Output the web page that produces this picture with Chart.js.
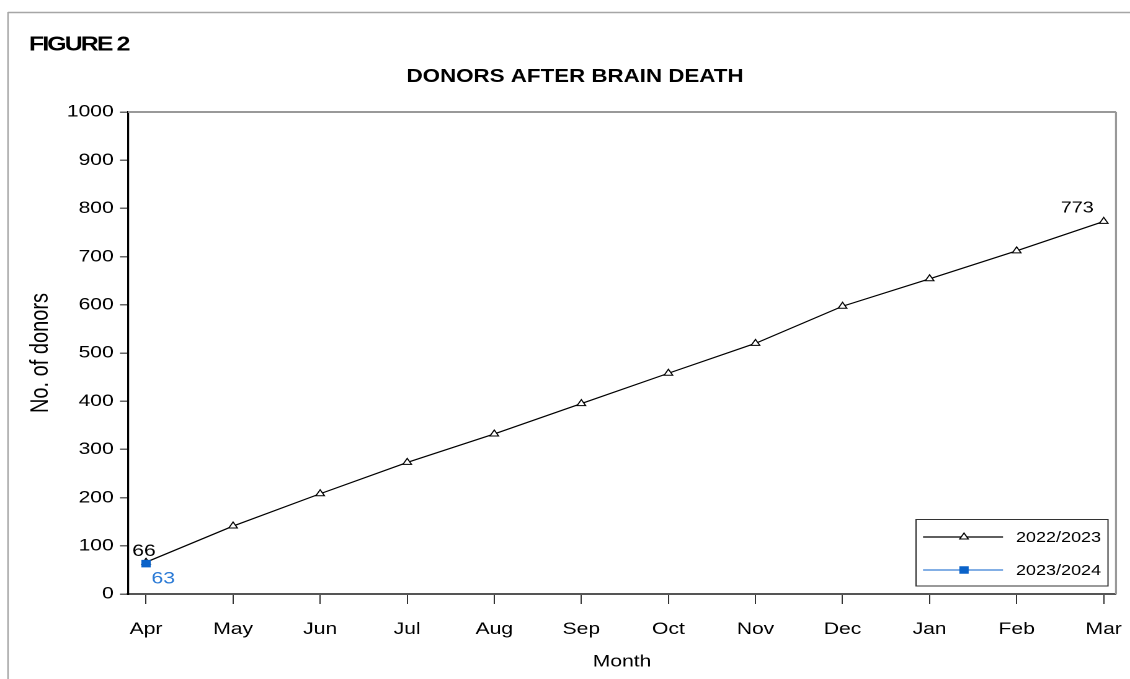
<!DOCTYPE html>
<html lang="en">
<head>
  <meta charset="UTF-8" />
  <title>Donors after brain death</title>
  <script src="https://cdn.jsdelivr.net/npm/chart.js"></script>
  <style>
    html, body { margin: 0; padding: 0; background: #fff; overflow: hidden; }
    /* the original figure is stretched sideways, so draw narrower and widen it */
    #wrap { width: 911px; height: 679px; transform: scaleX(1.2404); transform-origin: 0 0; }
  </style>
</head>
<body>
  <div id="wrap"><canvas id="donorChart"></canvas></div>

  <script>
    // data
    const months = ["Apr", "May", "Jun", "Jul", "Aug", "Sep", "Oct", "Nov", "Dec", "Jan", "Feb", "Mar"];
    const yTicks = [0, 100, 200, 300, 400, 500, 600, 700, 800, 900, 1000];
    const seriesNames = ["2022/2023", "2023/2024"];
    const donors2223 = [66, 141, 208, 273, 332, 395, 458, 520, 597, 654, 712, 773];
    const donors2324 = [63];

    const SX = 1130 / 911;
    const FONT = "'Liberation Sans', Arial, sans-serif";
    Chart.defaults.font.family = FONT;
    Chart.defaults.color = "#000";

    function toPoints(arr) {
      return arr.map((v, i) => ({ x: i, y: v }));
    }

    // small marker drawer for the legend
    function marker(ctx, ds, x, y) {
      ctx.save();
      ctx.fillStyle = ds.pointBackgroundColor;
      ctx.strokeStyle = ds.pointBorderColor;
      ctx.lineWidth = ds.pointBorderWidth;
      ctx.beginPath();
      const r = ds.pointRadius;
      if (ds.pointStyle === "triangle") {
        ctx.moveTo(x - r * 0.866, y + r * 0.5);
        ctx.lineTo(x, y - r);
        ctx.lineTo(x + r * 0.866, y + r * 0.5);
        ctx.closePath();
      } else {
        const s = r * Math.SQRT1_2;
        ctx.rect(x - s, y - s, 2 * s, 2 * s);
      }
      ctx.fill();
      ctx.stroke();
      ctx.restore();
    }

    const decor = {
      id: "decor",
      beforeDraw(chart) {
        const ctx = chart.ctx;
        ctx.save();
        ctx.fillStyle = "#fff";
        ctx.fillRect(0, 0, chart.width, chart.height);
        // outer frame
        ctx.strokeStyle = "#a6a6a6";
        ctx.lineWidth = 1.5;
        ctx.beginPath();
        ctx.moveTo(8 / SX, 12.5);
        ctx.lineTo(chart.width, 12.5);
        ctx.stroke();
        ctx.lineWidth = 1.5 / SX;
        ctx.beginPath();
        ctx.moveTo(8 / SX, 12);
        ctx.lineTo(8 / SX, chart.height);
        ctx.stroke();
        ctx.restore();
      },
      beforeDatasetsDraw(chart) {
        const ctx = chart.ctx;
        const a = chart.chartArea;
        ctx.save();
        ctx.strokeStyle = "#999";
        ctx.lineWidth = 2;
        ctx.beginPath();
        ctx.moveTo(a.left, a.top);
        ctx.lineTo(a.right, a.top);
        ctx.stroke();
        ctx.lineWidth = 2 / SX;
        ctx.beginPath();
        ctx.moveTo(a.right, a.top);
        ctx.lineTo(a.right, a.bottom);
        ctx.stroke();
        ctx.restore();
      },
      afterDatasetsDraw(chart) {
        const ctx = chart.ctx;
        ctx.save();

        // headings
        ctx.fillStyle = "#000";
        ctx.textBaseline = "alphabetic";
        ctx.font = "bold 20px " + FONT;
        ctx.letterSpacing = "-1.5px";
        ctx.textAlign = "left";
        ctx.fillText("FIGURE 2", 29 / SX, 50.5);
        ctx.letterSpacing = "0px";
        ctx.font = "bold 18px " + FONT;
        ctx.textAlign = "center";
        ctx.fillText("DONORS AFTER BRAIN DEATH", 575 / SX, 82);

        // value labels
        ctx.font = "17px " + FONT;
        const m0 = chart.getDatasetMeta(0).data;
        const m1 = chart.getDatasetMeta(1).data;
        ctx.textAlign = "center";
        ctx.fillText(String(donors2223[0]), m0[0].x - 1.6, m0[0].y - 6);
        ctx.font = "16px " + FONT;
        ctx.textAlign = "right";
        const last = m0.length - 1;
        ctx.fillText(String(donors2223[last]), m0[last].x - 8, m0[last].y - 9);
        ctx.font = "17px " + FONT;
        ctx.fillStyle = "#2a7ad6";
        ctx.textAlign = "left";
        ctx.fillText(String(donors2324[0]), m1[0].x + 4.4, m1[0].y + 20);

        // legend box
        const bx = 916 / SX, by = 519.5, bw = (1108 - 916) / SX, bh = 66.5;
        ctx.strokeStyle = "#333";
        ctx.lineWidth = 1;
        ctx.strokeRect(bx, by, bw, bh);
        ctx.font = "14.5px " + FONT;
        ctx.textBaseline = "middle";
        ctx.textAlign = "left";
        chart.data.datasets.forEach((ds, i) => {
          const y = 537 + i * 33;
          ctx.strokeStyle = ds.borderColor;
          ctx.lineWidth = ds.borderWidth;
          ctx.beginPath();
          ctx.moveTo(923 / SX, y);
          ctx.lineTo(1003 / SX, y);
          ctx.stroke();
          marker(ctx, ds, 964 / SX, y);
          ctx.fillStyle = "#000";
          ctx.fillText(ds.label, 1016 / SX, y + 1);
        });
        ctx.restore();
      }
    };

    const ctx = document.getElementById("donorChart").getContext("2d");
    const chart = new Chart(ctx, {
      type: "line",
      data: {
        datasets: [{
          label: seriesNames[0],
          data: toPoints(donors2223),
          borderColor: "#000",
          borderWidth: 1.2,
          pointStyle: "triangle",
          pointRadius: 4,
          pointBackgroundColor: "#fff",
          pointBorderColor: "#000",
          pointBorderWidth: 1,
          order: 2
        }, {
          label: seriesNames[1],
          data: toPoints(donors2324),
          borderColor: "#3a7fd5",
          borderWidth: 1.2,
          pointStyle: "rect",
          pointRadius: 4.6,
          pointBackgroundColor: "#0a62c9",
          pointBorderColor: "#0a62c9",
          pointBorderWidth: 1,
          order: 1
        }]
      },
      options: {
        responsive: true,
        maintainAspectRatio: false,
        devicePixelRatio: 2,
        animation: false,
        layout: { padding: { left: 0, right: 911 - 1116 / SX, top: 112, bottom: 0 } },
        elements: { line: { tension: 0 } },
        plugins: {
          legend: { display: false },
          tooltip: { enabled: false }
        },
        scales: {
          x: {
            type: "linear",
            min: -0.207,
            max: 11.141,
            afterBuildTicks: s => { s.ticks = months.map((m, i) => ({ value: i })); },
            afterFit: s => { s.height = 679 - 594; s.paddingLeft = 0; s.paddingRight = 0; },
            ticks: {
              callback: v => months[v],
              font: { size: 17 },
              padding: 15,
              maxRotation: 0,
              autoSkip: false
            },
            grid: { drawOnChartArea: false, tickLength: 10, tickColor: "#333", lineWidth: 1 },
            border: { color: "#555", width: 2 },
            title: { display: true, text: "Month", font: { size: 17 }, padding: { top: 0, bottom: 7 } }
          },
          y: {
            min: 0,
            max: 1000,
            afterBuildTicks: s => { s.ticks = yTicks.map(v => ({ value: v })); },
            afterFit: s => { s.width = 128 / SX; },
            ticks: { font: { size: 17 }, padding: 5, callback: v => String(v) },
            grid: { drawOnChartArea: false, tickLength: 6.5, tickColor: "#666", lineWidth: 1.5 },
            border: { color: "#000", width: 1.6 },
            title: { display: true, text: "No. of donors", font: { size: 20 }, padding: { top: 21, bottom: 0 } }
          }
        }
      },
      plugins: [decor]
    });
  </script>
</body>
</html>
